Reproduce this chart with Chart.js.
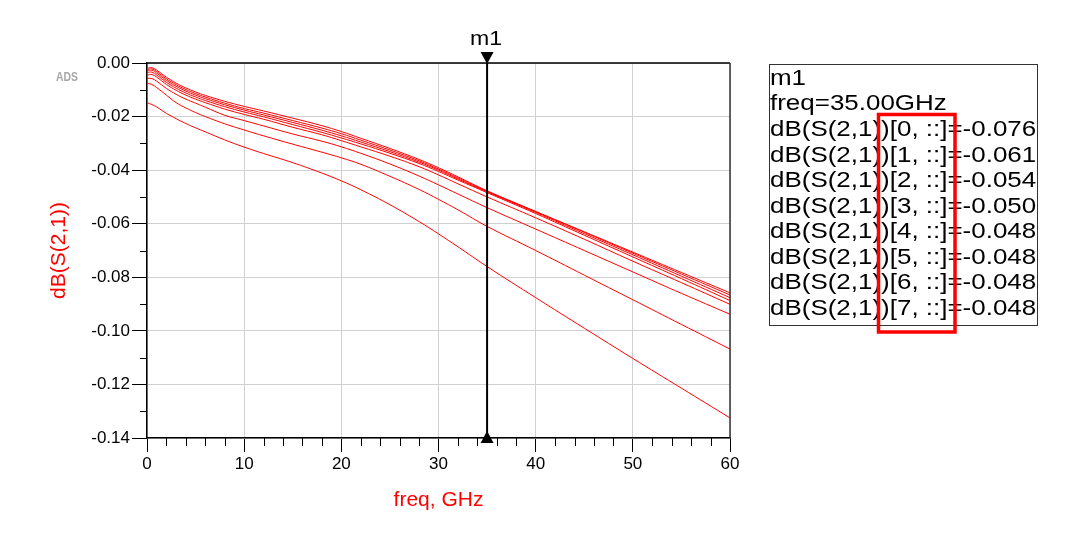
<!DOCTYPE html>
<html><head><meta charset="utf-8">
<script src="https://cdn.jsdelivr.net/npm/chart.js@4.4.0/dist/chart.umd.min.js"></script>
<style>html,body{margin:0;padding:0;background:#fff;}#wrap{width:1080px;height:549px;}</style>
</head><body><div id="wrap"><canvas id="c" width="1080" height="549"></canvas></div>
<script>
const freqGHz = [0, 0.5, 1, 2, 3, 4, 5, 6, 8, 10, 12, 15, 18, 20, 22, 25, 28, 30, 32, 35, 40, 45, 50, 55, 60];
const s21_0 = [-0.0148,-0.0155,-0.0164,-0.0188,-0.0208,-0.0226,-0.0242,-0.0257,-0.0287,-0.0314,-0.0338,-0.0372,-0.0411,-0.0440,-0.0473,-0.0529,-0.0592,-0.0638,-0.0686,-0.0760,-0.0876,-0.0990,-0.1103,-0.1214,-0.1325];
const s21_1 = [-0.0076,-0.0080,-0.0092,-0.0120,-0.0148,-0.0168,-0.0185,-0.0200,-0.0227,-0.0250,-0.0272,-0.0303,-0.0333,-0.0354,-0.0378,-0.0423,-0.0472,-0.0509,-0.0548,-0.0610,-0.0700,-0.0792,-0.0884,-0.0976,-0.1068];
const s21_2 = [-0.0057,-0.0058,-0.0068,-0.0095,-0.0117,-0.0135,-0.0150,-0.0165,-0.0195,-0.0215,-0.0235,-0.0265,-0.0292,-0.0313,-0.0337,-0.0377,-0.0422,-0.0455,-0.0489,-0.0540,-0.0620,-0.0700,-0.0780,-0.0860,-0.0938];
const s21_3 = [-0.0045,-0.0043,-0.0053,-0.0080,-0.0102,-0.0120,-0.0135,-0.0148,-0.0172,-0.0192,-0.0210,-0.0240,-0.0268,-0.0290,-0.0313,-0.0348,-0.0387,-0.0418,-0.0451,-0.0500,-0.0578,-0.0658,-0.0740,-0.0820,-0.0901];
const s21_4 = [-0.0036,-0.0034,-0.0045,-0.0072,-0.0094,-0.0112,-0.0127,-0.0140,-0.0163,-0.0183,-0.0201,-0.0230,-0.0259,-0.0280,-0.0302,-0.0337,-0.0375,-0.0405,-0.0437,-0.0484,-0.0562,-0.0643,-0.0724,-0.0805,-0.0887];
const s21_5 = [-0.0030,-0.0027,-0.0038,-0.0065,-0.0087,-0.0105,-0.0120,-0.0133,-0.0156,-0.0176,-0.0194,-0.0222,-0.0251,-0.0272,-0.0295,-0.0331,-0.0370,-0.0400,-0.0433,-0.0481,-0.0558,-0.0637,-0.0716,-0.0796,-0.0876];
const s21_6 = [-0.0025,-0.0022,-0.0032,-0.0059,-0.0081,-0.0099,-0.0114,-0.0127,-0.0150,-0.0170,-0.0187,-0.0215,-0.0243,-0.0264,-0.0288,-0.0325,-0.0365,-0.0396,-0.0429,-0.0479,-0.0555,-0.0632,-0.0710,-0.0788,-0.0866];
const s21_7 = [-0.0020,-0.0017,-0.0027,-0.0053,-0.0075,-0.0093,-0.0108,-0.0121,-0.0143,-0.0162,-0.0179,-0.0206,-0.0234,-0.0256,-0.0281,-0.0319,-0.0360,-0.0391,-0.0425,-0.0477,-0.0554,-0.0630,-0.0706,-0.0782,-0.0858];
const seriesNames = ['dB(S(2,1))[0, ::]','dB(S(2,1))[1, ::]','dB(S(2,1))[2, ::]','dB(S(2,1))[3, ::]','dB(S(2,1))[4, ::]','dB(S(2,1))[5, ::]','dB(S(2,1))[6, ::]','dB(S(2,1))[7, ::]'];
const markerName = 'm1';
const markerFreq = 35;
const markerValues = ['-0.076','-0.061','-0.054','-0.050','-0.048','-0.048','-0.048','-0.048'];
const xTicks = [0, 10, 20, 30, 40, 50, 60];
const xMinorTicks = [2,4,6,8,12,14,16,18,22,24,26,28,32,34,36,38,42,44,46,48,52,54,56,58];
const yTicks = [0.00, -0.02, -0.04, -0.06, -0.08, -0.10, -0.12, -0.14];
const yMinorTicks = [-0.01, -0.03, -0.05, -0.07, -0.09, -0.11, -0.13];

const FONT = '"Liberation Sans", Arial, sans-serif';
const allSeries = [s21_0, s21_1, s21_2, s21_3, s21_4, s21_5, s21_6, s21_7];

const decor = {
  id: 'decor',
  afterDraw(chart) {
    const ctx = chart.ctx, xs = chart.scales.x, ys = chart.scales.y, a = chart.chartArea;
    ctx.save();
    ctx.strokeStyle = '#000'; ctx.lineWidth = 1.5;
    ctx.beginPath(); ctx.moveTo(a.left, a.top); ctx.lineTo(a.right, a.top); ctx.stroke();
    ctx.strokeStyle = '#333'; ctx.lineWidth = 1.5;
    ctx.beginPath(); ctx.moveTo(a.right, a.top); ctx.lineTo(a.right, a.bottom); ctx.stroke();
    ctx.strokeStyle = '#000'; ctx.lineWidth = 1;
    yMinorTicks.forEach(v => { const y = Math.round(ys.getPixelForValue(v)) + 0.5; ctx.beginPath(); ctx.moveTo(a.left - 7, y); ctx.lineTo(a.left, y); ctx.stroke(); });
    xMinorTicks.forEach(v => { const x = Math.round(xs.getPixelForValue(v)) + 0.5; ctx.beginPath(); ctx.moveTo(x, a.bottom); ctx.lineTo(x, a.bottom + 8); ctx.stroke(); });
    const mx = xs.getPixelForValue(markerFreq);
    ctx.strokeStyle = '#000'; ctx.lineWidth = 2;
    ctx.beginPath(); ctx.moveTo(mx, a.top); ctx.lineTo(mx, a.bottom); ctx.stroke();
    ctx.fillStyle = '#000';
    ctx.beginPath(); ctx.moveTo(mx - 6.5, a.top - 11); ctx.lineTo(mx + 6.5, a.top - 11); ctx.lineTo(mx, a.top + 1); ctx.closePath(); ctx.fill();
    ctx.beginPath(); ctx.moveTo(mx - 6.5, a.bottom + 5); ctx.lineTo(mx + 6.5, a.bottom + 5); ctx.lineTo(mx, a.bottom - 7); ctx.closePath(); ctx.fill();
    ctx.font = '21px ' + FONT; ctx.textAlign = 'center'; ctx.textBaseline = 'alphabetic';
    ctx.save(); ctx.translate(mx - 1, 45); ctx.scale(1.1, 1); ctx.fillText(markerName, 0, 0); ctx.restore();
    ctx.font = 'bold 13px ' + FONT; ctx.fillStyle = '#a6a6a6'; ctx.textAlign = 'center';
    ctx.save(); ctx.translate(67, 81); ctx.scale(0.8, 1); ctx.fillText('ADS', 0, 0); ctx.restore();
    ctx.strokeStyle = '#333'; ctx.lineWidth = 1;
    ctx.strokeRect(769.5, 64.5, 268, 261);
    ctx.fillStyle = '#000'; ctx.textAlign = 'left'; ctx.font = '22px ' + FONT;
    const lines = [markerName, 'freq=' + markerFreq.toFixed(2) + 'GHz'].concat(seriesNames.map((n, i) => n + '=' + markerValues[i]));
    lines.forEach((t, i) => { ctx.save(); ctx.translate(770, 84.8 + i * 25.57); ctx.scale(1.18, 1); ctx.fillText(t, 0, 0); ctx.restore(); });
    ctx.strokeStyle = '#f00'; ctx.lineWidth = 3.5;
    ctx.strokeRect(878.5, 114.5, 76.5, 217.5);
    ctx.restore();
  }
};

new Chart(document.getElementById('c'), {
  type: 'line',
  data: {
    datasets: allSeries.map((s, i) => ({
      label: seriesNames[i],
      data: freqGHz.map((f, k) => ({ x: f, y: s[k] })),
      borderColor: '#ff0000',
      borderWidth: 1,
      pointRadius: 0,
      fill: false,
      tension: 0.4
    }))
  },
  options: {
    responsive: false,
    animation: false,
    devicePixelRatio: 1,
    layout: { padding: { left: 0, right: 350, top: 63, bottom: 0 } },
    plugins: { legend: { display: false }, tooltip: { enabled: false } },
    scales: {
      x: {
        type: 'linear', min: 0, max: 60,
        afterBuildTicks: s => { s.ticks = xTicks.map(v => ({ value: v })); },
        afterFit: s => { s.height = 111; },
        ticks: { color: '#000', font: { family: FONT, size: 17 }, padding: 2, maxRotation: 0 },
        grid: { color: '#d0d0d0', lineWidth: 1, tickLength: 14, tickColor: '#000', tickWidth: 1 },
        border: { color: '#000', width: 1.5 },
        title: { display: true, text: 'freq, GHz', color: '#ff0000', font: { family: FONT, size: 21 }, padding: { top: 0, bottom: 36 } }
      },
      y: {
        type: 'linear', min: -0.14, max: 0,
        afterBuildTicks: s => { s.ticks = yTicks.map(v => ({ value: v })); },
        afterFit: s => { s.width = 147; },
        ticks: { color: '#000', font: { family: FONT, size: 17 }, padding: 2, callback: v => (Math.abs(v) < 1e-9 ? 0 : v).toFixed(2) },
        grid: { color: '#d0d0d0', lineWidth: 1, tickLength: 15, tickColor: '#000', tickWidth: 1 },
        border: { color: '#000', width: 1.5 },
        title: { display: true, text: 'dB(S(2,1))', color: '#ff0000', font: { family: FONT, size: 21 }, padding: { top: 47, bottom: 0 } }
      }
    }
  },
  plugins: [decor]
});
</script>
</body></html>
